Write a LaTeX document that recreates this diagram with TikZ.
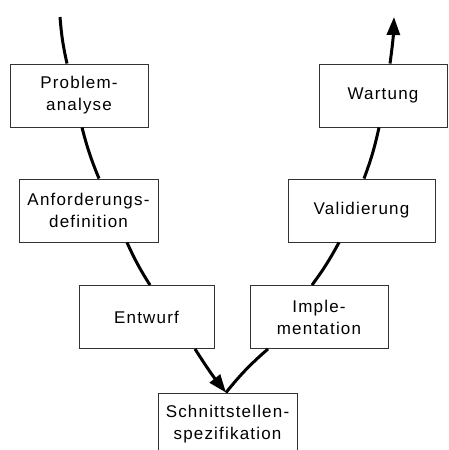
\documentclass[tikz,border=0pt]{standalone}
\usepackage{fontspec}
\setmainfont{Liberation Sans}[LetterSpace=7]
\usetikzlibrary{arrows.meta}
\begin{document}
\begin{tikzpicture}[x=1pt,y=-1pt,
  phase/.style={draw=black!80,line width=0.9pt,fill=white,minimum height=63pt,
    inner sep=0pt,align=center,font=\fontsize{17}{22}\selectfont},
  flow/.style={line width=3pt,black},
  tip/.style={-{Triangle[length=18pt,width=13pt]}}]
  \clip (0,0) rectangle (448,450);
  \fill[white] (0,0) rectangle (448,450);

  % left branch of the V
  \node[phase,minimum width=138pt] (pa) at (79,95.5) {Problem-\\analyse};
  \node[phase,minimum width=139pt] (ad) at (88.5,210.5) {Anforderungs-\\definition};
  \node[phase,minimum width=135pt] (ew) at (146.5,317) {Entwurf};
  % bottom of the V (box runs past the lower edge)
  \node[phase,minimum width=139pt] (ss) at (227.5,424.5) {Schnittstellen-\\spezifikation};
  % right branch of the V
  \node[phase,minimum width=138pt] (im) at (319,317) {Imple-\\mentation};
  \node[phase,minimum width=147pt] (va) at (361.5,210.5) {Validierung};
  \node[phase,minimum width=128pt] (wa) at (383,95.5) {Wartung};

  \coordinate (start) at (60,17);
  \coordinate (end) at (394,17);

  \draw[flow] (start) to[bend right=4] ([xshift=-12pt]pa.north);
  \draw[flow] ([xshift=3pt]pa.south) to[bend right=4] ([xshift=10.5pt]ad.north);
  \draw[flow] ([xshift=38.5pt]ad.south) to[bend right=4] ([xshift=3.5pt]ew.north);
  \draw[flow,tip] ([xshift=48.5pt]ew.south) to[bend right=3] ([xshift=-1.5pt]ss.north);
  \draw[flow] ([xshift=-51pt]im.south) to[bend right=5] ([xshift=-1.5pt]ss.north);
  \draw[flow] ([xshift=-22.5pt]va.south) to[bend left=4] ([xshift=-7pt]im.north);
  \draw[flow] ([xshift=-4pt]wa.south) to[bend left=4] ([xshift=2.5pt]va.north);
  \draw[flow,tip] ([xshift=7pt]wa.north) to[bend right=3] (end);
\end{tikzpicture}
\end{document}
